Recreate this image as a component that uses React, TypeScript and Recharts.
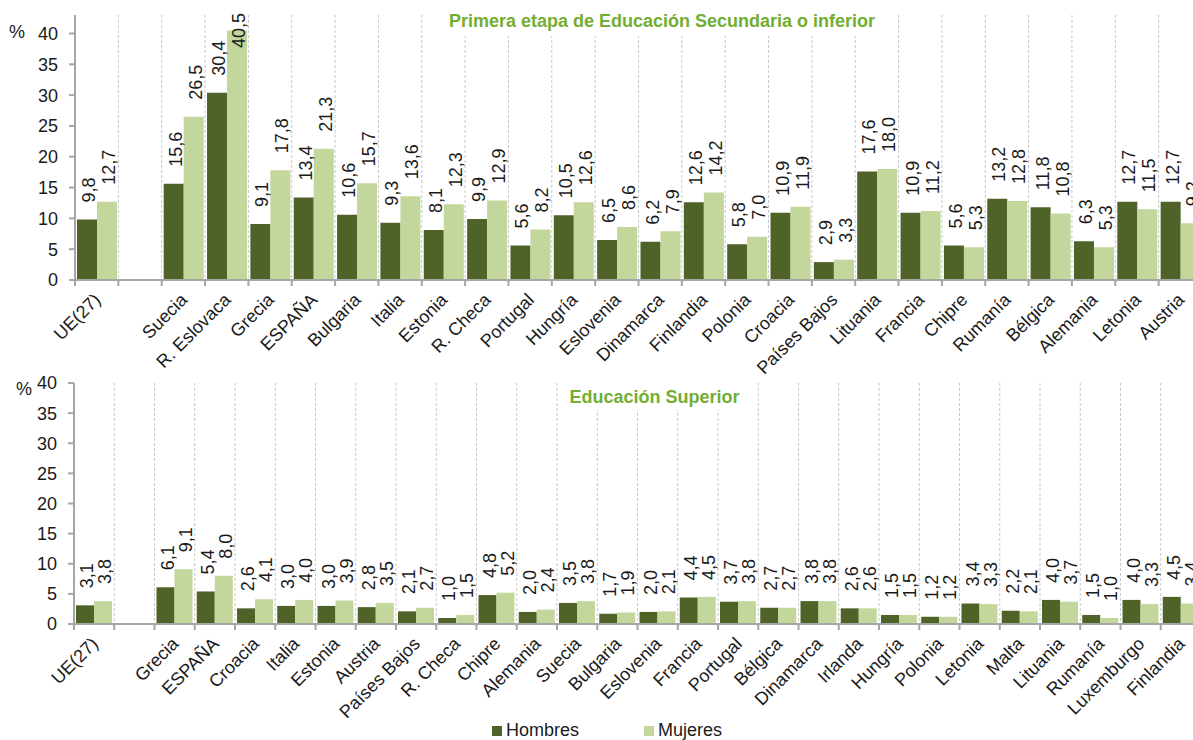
import React from 'react';
import { BarChart, Bar, XAxis, YAxis, CartesianGrid, LabelList, Legend, Customized } from 'recharts';

const FONT = '"Liberation Sans", Arial, Helvetica, sans-serif';
const DARK = '#4f6228';
const LIGHT = '#c3d69b';
const TITLE_GREEN = '#72ae32';
const AXIS_GRAY = '#a6a6a6';
const TEXT = '#1a1a1a';

// ---- Top chart: Primera etapa de Educación Secundaria o inferior ----
const TOP_CATEGORIES = [
  'UE(27)', '', 'Suecia', 'R. Eslovaca', 'Grecia', 'ESPAÑA', 'Bulgaria', 'Italia', 'Estonia',
  'R. Checa', 'Portugal', 'Hungría', 'Eslovenia', 'Dinamarca', 'Finlandia', 'Polonia', 'Croacia',
  'Países Bajos', 'Lituania', 'Francia', 'Chipre', 'Rumanía', 'Bélgica', 'Alemania', 'Letonia', 'Austria',
];
const TOP_HOMBRES = [
  9.8, null, 15.6, 30.4, 9.1, 13.4, 10.6, 9.3, 8.1,
  9.9, 5.6, 10.5, 6.5, 6.2, 12.6, 5.8, 10.9,
  2.9, 17.6, 10.9, 5.6, 13.2, 11.8, 6.3, 12.7, 12.7,
];
const TOP_MUJERES = [
  12.7, null, 26.5, 40.5, 17.8, 21.3, 15.7, 13.6, 12.3,
  12.9, 8.2, 12.6, 8.6, 7.9, 14.2, 7.0, 11.9,
  3.3, 18.0, 11.2, 5.3, 12.8, 10.8, 5.3, 11.5, 9.2,
];
const TOP_TICKS = [0, 5, 10, 15, 20, 25, 30, 35, 40];

// ---- Bottom chart: Educación Superior ----
const BOTTOM_CATEGORIES = [
  'UE(27)', '', 'Grecia', 'ESPAÑA', 'Croacia', 'Italia', 'Estonia', 'Austria', 'Países Bajos',
  'R. Checa', 'Chipre', 'Alemania', 'Suecia', 'Bulgaria', 'Eslovenia', 'Francia', 'Portugal',
  'Bélgica', 'Dinamarca', 'Irlanda', 'Hungría', 'Polonia', 'Letonia', 'Malta', 'Lituania',
  'Rumanía', 'Luxemburgo', 'Finlandia',
];
const BOTTOM_HOMBRES = [
  3.1, null, 6.1, 5.4, 2.6, 3.0, 3.0, 2.8, 2.1,
  1.0, 4.8, 2.0, 3.5, 1.7, 2.0, 4.4, 3.7,
  2.7, 3.8, 2.6, 1.5, 1.2, 3.4, 2.2, 4.0,
  1.5, 4.0, 4.5,
];
const BOTTOM_MUJERES = [
  3.8, null, 9.1, 8.0, 4.1, 4.0, 3.9, 3.5, 2.7,
  1.5, 5.2, 2.4, 3.8, 1.9, 2.1, 4.5, 3.8,
  2.7, 3.8, 2.6, 1.5, 1.2, 3.3, 2.1, 3.7,
  1.0, 3.3, 3.4,
];
const BOTTOM_TICKS = [0, 5, 10, 15, 20, 25, 30, 35, 40];

const SERIES_NAMES = ['Hombres', 'Mujeres'];

const fmt = (v: number) => v.toFixed(1).replace('.', ',');
const textLen = (s: string) => {
  let w = 0;
  for (const c of s) w += c === ',' ? 5.0 : 10.0;
  return w;
};

type PanelProps = {
  categories: string[];
  hombres: (number | null)[];
  mujeres: (number | null)[];
  ticks: number[];
  domainMax: number;
  width: number;
  height: number;
  marginTop: number;
  marginRight: number;
  yAxisWidth: number;
  xAxisHeight: number;
  title: string;
  titleBox: { x: number; y: number; w: number; h: number; baseline: number };
  pct: { x: number; y: number };
  labelMinTop: number;
  withLegend: boolean;
};

function Panel(p: PanelProps) {
  const data = p.categories.map((name, i) => ({ name, h: p.hombres[i], m: p.mujeres[i] }));
  const N = p.categories.length;
  const plotW = p.width - p.yAxisWidth - p.marginRight;
  const band = plotW / N;

  const XTick = (props: any) => {
    const { x, y, payload } = props;
    const bx = x - band / 2;
    return (
      <g>
        <line x1={bx} y1={y} x2={bx} y2={y + 6} stroke={AXIS_GRAY} strokeWidth={2} />
        <text
          transform={`translate(${x + 5},${y + 21}) rotate(-45)`}
          textAnchor="end"
          fontSize={18}
          fontFamily={FONT}
          fill={TEXT}
        >
          {payload.value}
        </text>
      </g>
    );
  };

  const renderLabel = (props: any) => {
    const { x, y, width, value } = props;
    if (value == null || x == null) return null;
    const s = fmt(Number(value));
    const cx = Number(x) + Number(width) / 2 + 2;
    let base = Number(y) - 17;
    const len = textLen(s);
    if (base - len < p.labelMinTop) base = p.labelMinTop + len;
    return (
      <text
        transform={`translate(${cx},${base}) rotate(-90)`}
        textAnchor="start"
        dominantBaseline="central"
        fontSize={18}
        fontFamily={FONT}
        fill={TEXT}
      >
        {s}
      </text>
    );
  };

  const gridGen = ({ offset }: any) => {
    const out: number[] = [];
    for (let i = 1; i <= N; i++) out.push(offset.left + (i * offset.width) / N);
    return out;
  };

  const TitleBox = () => (
    <g>
      <rect x={p.titleBox.x} y={p.titleBox.y} width={p.titleBox.w} height={p.titleBox.h} fill="#ffffff" />
      <text
        x={p.titleBox.x + p.titleBox.w / 2}
        y={p.titleBox.baseline}
        textAnchor="middle"
        fontSize={18}
        fontWeight="bold"
        fontFamily={FONT}
        fill={TITLE_GREEN}
      >
        {p.title}
      </text>
    </g>
  );

  const LegendContent = () => (
    <div style={{ position: 'relative', width: p.width, height: 20, fontFamily: FONT, fontSize: 18, color: TEXT }}>
      {SERIES_NAMES.map((n, i) => (
        <div key={n} style={{ position: 'absolute', left: 492 + i * 152, top: 0, height: 20 }}>
          <span
            style={{
              position: 'absolute', left: 0, top: 6, width: 10, height: 10,
              background: i === 0 ? DARK : LIGHT,
            }}
          />
          <span style={{ position: 'absolute', left: 14, top: 0, lineHeight: '20px', whiteSpace: 'nowrap' }}>{n}</span>
        </div>
      ))}
    </div>
  );

  return (
    <BarChart
      width={p.width}
      height={p.height}
      data={data}
      margin={{ top: p.marginTop, right: p.marginRight, left: 0, bottom: 0 }}
      barCategoryGap={2}
      barGap={0}
    >
      <CartesianGrid
        horizontal={false}
        vertical
        stroke="#c8c8c8"
        strokeDasharray="3 2"
        verticalCoordinatesGenerator={gridGen}
      />
      <Customized component={TitleBox} />
      <XAxis
        dataKey="name"
        interval={0}
        tickLine={false}
        tickSize={0}
        tickMargin={0}
        axisLine={{ stroke: AXIS_GRAY, strokeWidth: 2 }}
        tick={<XTick />}
        height={p.xAxisHeight}
      />
      <YAxis
        width={p.yAxisWidth}
        domain={[0, p.domainMax]}
        ticks={p.ticks}
        interval={0}
        allowDataOverflow
        axisLine={{ stroke: AXIS_GRAY, strokeWidth: 2 }}
        tickLine={{ stroke: AXIS_GRAY, strokeWidth: 2 }}
        tickSize={6}
        tickMargin={11}
        tick={{ fontSize: 18, fontFamily: FONT, fill: TEXT }}
        label={(lp: any) => (
          <text x={p.pct.x} y={p.pct.y} fontSize={18} fontFamily={FONT} fill={TEXT}>%</text>
        )}
      />
      {p.withLegend && (
        <Legend verticalAlign="bottom" wrapperStyle={{ left: 0, width: p.width, height: 20 }} content={<LegendContent />} />
      )}
      <Bar dataKey="h" name={SERIES_NAMES[0]} fill={DARK} isAnimationActive={false}>
        <LabelList dataKey="h" content={renderLabel} />
      </Bar>
      <Bar dataKey="m" name={SERIES_NAMES[1]} fill={LIGHT} isAnimationActive={false}>
        <LabelList dataKey="m" content={renderLabel} />
      </Bar>
    </BarChart>
  );
}

export default function App() {
  return (
    <div
      style={{
        position: 'fixed', left: 0, top: 0, width: 1193, height: 740,
        overflow: 'hidden', background: '#ffffff', fontFamily: FONT,
      }}
    >
      <div style={{ position: 'absolute', left: 0, top: 0 }}>
        <Panel
          categories={TOP_CATEGORIES}
          hombres={TOP_HOMBRES}
          mujeres={TOP_MUJERES}
          ticks={TOP_TICKS}
          domainMax={43}
          width={1230}
          height={400}
          marginTop={15}
          marginRight={28}
          yAxisWidth={75}
          xAxisHeight={120}
          title="Primera etapa de Educación Secundaria o inferior"
          titleBox={{ x: 438, y: 15, w: 448, h: 21, baseline: 27 }}
          pct={{ x: 9, y: 38 }}
          labelMinTop={13}
          withLegend={false}
        />
      </div>
      <div style={{ position: 'absolute', left: 0, top: 370 }}>
        <Panel
          categories={BOTTOM_CATEGORIES}
          hombres={BOTTOM_HOMBRES}
          mujeres={BOTTOM_MUJERES}
          ticks={BOTTOM_TICKS}
          domainMax={40}
          width={1230}
          height={370}
          marginTop={13}
          marginRight={29}
          yAxisWidth={74}
          xAxisHeight={96}
          title="Educación Superior"
          titleBox={{ x: 562, y: 13, w: 185, h: 27, baseline: 33 }}
          pct={{ x: 16, y: 25 }}
          labelMinTop={0}
          withLegend={true}
        />
      </div>
    </div>
  );
}
